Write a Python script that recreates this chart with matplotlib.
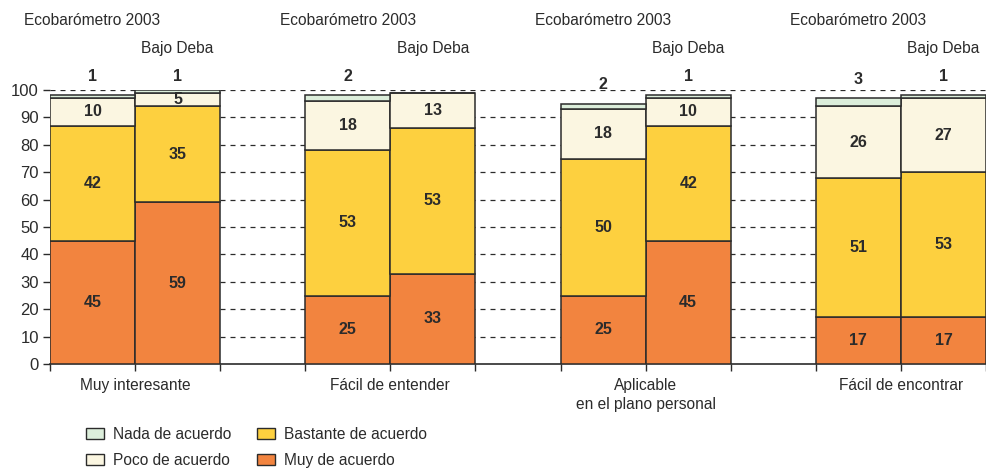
import matplotlib
matplotlib.use("Agg")
import matplotlib.pyplot as plt
from matplotlib.patches import Patch
import numpy as np

plt.rcParams['font.family'] = ['Liberation Sans Narrow', 'Liberation Sans', 'DejaVu Sans']

# data
groups = ['Muy interesante', 'Fácil de entender', 'Aplicable\nen el plano personal', 'Fácil de encontrar']
series_names = ['Ecobarómetro 2003', 'Bajo Deba']
categories = ['Muy de acuerdo', 'Bastante de acuerdo', 'Poco de acuerdo', 'Nada de acuerdo']

# one entry per bar: Eco, BD, Eco, BD, ...
muy = [45, 59, 25, 33, 25, 45, 17, 17]
bastante = [42, 35, 53, 53, 50, 42, 51, 53]
poco = [10, 5, 18, 13, 18, 10, 26, 27]
nada = [1, 1, 2, 0, 2, 1, 3, 1]

colors = ['#F2843F', '#FDD03F', '#FBF6E1', '#DCEEDB']
edge = '#2b2b2b'
text_col = '#2b2b2b'
fs = 11.2
num_font = ['Liberation Sans', 'DejaVu Sans']

fig = plt.figure(figsize=(9.87, 4.70), dpi=100)
ax = fig.add_axes([50/987, 1 - 364/470, 937/987 - 0.001, 274/470])

# bar positions: two adjacent bars per group, one bar-width gap
x = []
for g in range(len(groups)):
    x += [3*g + 0.5, 3*g + 1.5]
x = np.array(x)

values = [muy, bastante, poco, nada]
bottom = np.zeros(len(x))
for vals, col in zip(values, colors):
    vals = np.array(vals, dtype=float)
    ax.bar(x, vals, width=1.0, bottom=bottom, color=col, edgecolor=edge,
           linewidth=1.1, zorder=3)
    bottom += vals

# labels inside segments
bottom = np.zeros(len(x))
for vals in values[:3]:
    for xi, b, v in zip(x, bottom, vals):
        ax.text(xi, b + v/2, str(v), ha='center', va='center', fontsize=11.5,
                family=num_font, fontweight='bold', color=text_col, zorder=5)
    bottom += np.array(vals)

# "nada" labels above the bars
for xi, b, v in zip(x, bottom, nada):
    if v > 0:
        ax.text(xi, min(b + v + 7, 105), str(v), ha='center', va='center',
                fontsize=11.5, family=num_font, fontweight='bold',
                color=text_col, zorder=5, clip_on=False)

# series headers and group labels
for g in range(len(groups)):
    ax.text(3*g + 0.5, 125.5, series_names[0], ha='center', va='center',
            fontsize=fs, color=text_col, clip_on=False)
    ax.text(3*g + 1.5, 115, series_names[1], ha='center', va='center',
            fontsize=fs, color=text_col, clip_on=False)
    ax.text(3*g + 1, -5.0, groups[g], ha='center', va='top',
            fontsize=fs, color=text_col, linespacing=1.35, clip_on=False)

ax.set_xlim(0, 11)
ax.set_ylim(0, 100)
ax.set_xticks(np.arange(0, 12))
ax.set_xticklabels([])
ax.set_yticks(np.arange(0, 101, 10))
ax.tick_params(axis='both', direction='out', length=5, width=1, color=edge,
               labelsize=12, labelcolor=text_col)
ax.tick_params(axis='y', pad=3)

for y in range(10, 101, 10):
    ax.axhline(y, color=edge, linestyle=(0, (4, 4)), linewidth=0.9, zorder=1)

for s in ['top', 'right', 'left']:
    ax.spines[s].set_visible(False)
ax.spines['bottom'].set_color(edge)
ax.spines['bottom'].set_linewidth(1.2)

handles = [Patch(facecolor=colors[3], edgecolor=edge, label=categories[3]),
           Patch(facecolor=colors[2], edgecolor=edge, label=categories[2]),
           Patch(facecolor=colors[1], edgecolor=edge, label=categories[1]),
           Patch(facecolor=colors[0], edgecolor=edge, label=categories[0])]
leg = fig.legend(handles=handles, ncol=2, loc='upper left',
                 bbox_to_anchor=(80/987, 1 - 421/470), frameon=False,
                 fontsize=fs, handlelength=1.15, handleheight=0.7,
                 labelspacing=0.7, columnspacing=1.6, handletextpad=0.6,
                 borderaxespad=0.0)
for t in leg.get_texts():
    t.set_color(text_col)

fig.savefig('out.png', dpi=100)
